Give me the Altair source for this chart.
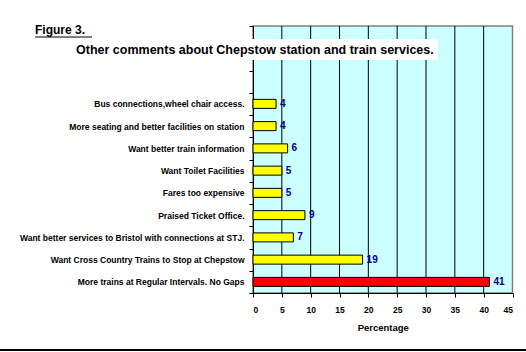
import altair as alt
import pandas as pd

categories = [
    "Bus connections,wheel chair access.",
    "More seating and better facilities on station",
    "Want better train information",
    "Want Toilet Facilities",
    "Fares too expensive",
    "Praised Ticket Office.",
    "Want better services to Bristol with connections at STJ.",
    "Want Cross Country Trains to  Stop at Chepstow",
    "More trains at Regular Intervals. No Gaps",
]
values = [4, 4, 6, 5, 5, 9, 7, 19, 41]
highlight = [False] * 8 + [True]
blank_slots = [" ", "  ", "   "]
x_ticks = [0, 5, 10, 15, 20, 25, 30, 35, 40, 45]

df = pd.DataFrame({"cat": categories, "val": values, "hi": highlight})
domain = blank_slots + categories

W, H = 259.5, 267
LEFT, TOP = 253, 26

x_scale = alt.Scale(domain=[0, 45], nice=False)
y_scale = alt.Scale(domain=domain, paddingInner=0, paddingOuter=0)
y_axis = alt.Axis(title=None, tickBand="extent", labelFont="Liberation Sans Narrow, Arial Narrow, Arial",
                  labelFontSize=8.5, labelFontWeight="bold", labelColor="black", labelLimit=260,
                  labelPadding=5, tickColor="black", tickSize=4, domainColor="black", grid=False)
x_axis = alt.Axis(title="Percentage", values=x_ticks, labelOverlap=False, labelFont="Arial",
                  labelFontSize=8.5, labelFontWeight="bold", labelColor="black", labelPadding=8,
                  tickColor="black", tickSize=4, domainColor="black", grid=False,
                  titleFont="Arial", titleFontSize=9.5, titleFontWeight="bold", titlePadding=9,
                  titleColor="black")

base = alt.Chart(df)

bars = base.mark_bar(size=9, stroke="black", strokeWidth=1).encode(
    y=alt.Y("cat:N", sort=domain, scale=y_scale, axis=y_axis),
    x=alt.X("val:Q", scale=x_scale, axis=x_axis),
    color=alt.condition("datum.hi", alt.value("#FF0000"), alt.value("#FFFF00")),
)

grid = alt.Chart(pd.DataFrame({"val": [5, 10, 15, 20, 25, 30, 35, 40]})).mark_rule(
    color="black", strokeWidth=1
).encode(x=alt.X("val:Q", scale=x_scale, axis=x_axis))

labels = base.mark_text(align="left", baseline="middle", dx=4, font="Arial", fontSize=10,
                        fontWeight="bold", color="#000080").encode(
    y=alt.Y("cat:N", sort=domain, scale=y_scale, axis=y_axis),
    x=alt.X("val:Q", scale=x_scale, axis=x_axis), text="val:Q")

one = pd.DataFrame({"a": [0]})
title_box = alt.Chart(one).mark_rect(color="white").encode(
    x=alt.value(70 - LEFT), x2=alt.value(438 - LEFT), y=alt.value(39 - TOP), y2=alt.value(60 - TOP))
fig_text = alt.Chart(one).mark_text(align="left", baseline="middle", font="Arial", fontSize=12,
                                    fontWeight="bold", color="black").encode(
    x=alt.value(35 - LEFT), y=alt.value(30 - TOP), text=alt.value("Figure 3."))
fig_ul = alt.Chart(one).mark_rule(color="black", strokeWidth=1).encode(
    x=alt.value(35 - LEFT), x2=alt.value(92 - LEFT), y=alt.value(37 - TOP))
sub_text = alt.Chart(one).mark_text(align="left", baseline="middle", font="Arial", fontSize=12.5,
                                    fontWeight="bold", color="black").encode(
    x=alt.value(76 - LEFT), y=alt.value(50 - TOP),
    text=alt.value("Other comments about Chepstow station and train services."))
bottom_line = alt.Chart(one).mark_rule(color="black", strokeWidth=2).encode(
    x=alt.value(-LEFT), x2=alt.value(526 - LEFT), y=alt.value(350 - TOP))

chart = alt.layer(grid, bars, labels, title_box, fig_text, fig_ul, sub_text, bottom_line).properties(
    width=W, height=H,
    autosize=alt.AutoSizeParams(type="none"),
    padding={"left": LEFT, "top": TOP, "right": 526 - LEFT - W, "bottom": 352 - TOP - H},
    background="white",
).configure_view(fill="#CCFFFF", stroke="#808080", strokeWidth=1.5)

chart.save("out.html", embed_options={"renderer": "svg", "actions": False})
